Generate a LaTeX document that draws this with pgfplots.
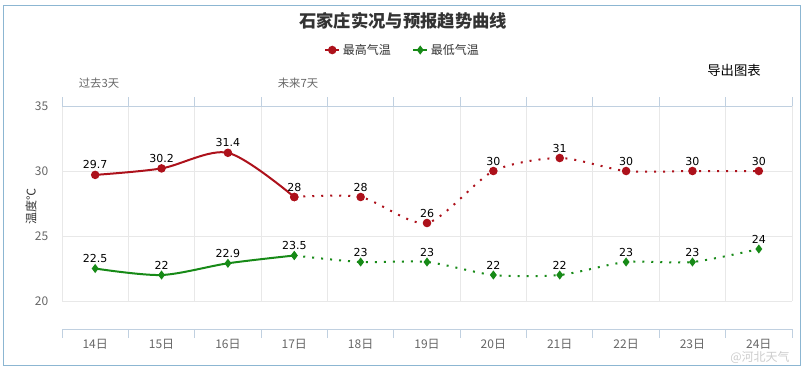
\documentclass[border=0pt]{standalone}
\usepackage{pgfplots}
\pgfplotsset{compat=1.18}
\usepackage{fontspec}
\setmainfont{Noto Sans CJK SC}
\newfontfamily\dejavu{DejaVu Sans}
\definecolor{hred}{HTML}{AD111B}
\definecolor{hgreen}{HTML}{178A17}
\definecolor{gridc}{HTML}{E8E8E8}
\definecolor{axisc}{HTML}{C0D0E0}
\definecolor{labc}{HTML}{666666}
\definecolor{titc}{HTML}{333333}
\definecolor{bordc}{HTML}{8CB6D2}
\begin{document}
\begin{tikzpicture}
\begin{scope}[x=0.75pt,y=-0.75pt]
\path (0,0) rectangle (805,369);
\draw[bordc, line width=0.9pt] (3.5,5.5) rectangle (800.5,365.5);
\end{scope}
\begin{axis}[
  at={(46.5pt,-246.75pt)}, anchor=south west, scale only axis,
  width=547.5pt, height=167.25pt,
  xmin=0, xmax=11, ymin=17.846, ymax=35,
  clip=false,
  axis x line*=bottom, axis y line*=left,
  y axis line style={draw=none},
  x axis line style={draw=axisc, line width=0.75pt, -},
  xtick={0,...,11}, xticklabels={},
  tick align=outside,
  major tick length=6.75pt,
  xtick style={draw=axisc, line width=0.75pt},
  extra x ticks={0.5,1.5,2.5,3.5,4.5,5.5,6.5,7.5,8.5,9.5,10.5},
  extra x tick labels={14日,15日,16日,17日,18日,19日,20日,21日,22日,23日,24日},
  extra x tick style={major tick length=0pt, tick style={draw=none},
     xticklabel style={yshift=-4.5pt}},
  xticklabel style={font=\fontsize{9}{10}\selectfont, text=labc},
  ytick={20,25,30,35},
  ytick style={draw=none},
  ymajorgrids,
  major grid style={draw=gridc, line width=0.75pt},
  yticklabel style={font=\fontsize{9}{10}\selectfont, text=labc},
  /pgf/number format/assume math mode=true,
  legend style={at={(0.467,1.251)}, anchor=center, draw=none, fill=none,
     font=\fontsize{9}{11}\selectfont, text=titc, legend columns=2,
     /tikz/every even column/.append style={column sep=14pt}},
  legend image code/.code={\draw[mark repeat=2,mark phase=2,#1] plot coordinates {(0pt,0pt) (5.25pt,0pt) (10.5pt,0pt)};},
  every node near coord/.append style={font=\dejavu\fontsize{8.25}{10}\selectfont, text=black, anchor=base, yshift=4.5pt},
]
\pgfplotsinvokeforeach{0,...,11}{
  \draw[gridc, line width=0.75pt] (axis cs:#1,20) -- (axis cs:#1,35);
  \draw[axisc, line width=0.75pt] (axis cs:#1,35) -- ++(0pt,6.75pt);
}
\draw[axisc, line width=0.75pt] (axis cs:0,35) -- (axis cs:11,35);

\addplot[hred, line width=1.5pt, smooth, mark=*, mark size=2.4pt,
  nodes near coords, point meta=explicit symbolic]
  coordinates {(0.5,29.7)[29.7] (1.5,30.2)[30.2] (2.5,31.4)[31.4] (3.5,28)[]};
\addlegendentry{最高气温}
\addplot[hgreen, line width=1.5pt, smooth, mark=diamond*, mark size=2.2pt,
  nodes near coords, point meta=explicit symbolic]
  coordinates {(0.5,22.5)[22.5] (1.5,22)[22] (2.5,22.9)[22.9] (3.5,23.5)[]};
\addlegendentry{最低气温}

\addplot[forget plot, hred, line width=1.5pt, smooth, tension=0.45, dash pattern=on 1.5pt off 5.25pt,
  mark=*, mark size=2.4pt, mark options={solid},
  nodes near coords, point meta=explicit symbolic]
  coordinates {(3.5,28)[28] (4.5,28)[28] (5.5,26)[26] (6.5,30)[30] (7.5,31)[31] (8.5,30)[30] (9.5,30)[30] (10.5,30)[30]};
\addplot[forget plot, hgreen, line width=1.5pt, smooth, tension=0.45, dash pattern=on 1.5pt off 5.25pt,
  mark=diamond*, mark size=2.2pt, mark options={solid},
  nodes near coords, point meta=explicit symbolic]
  coordinates {(3.5,23.5)[23.5] (4.5,23)[23] (5.5,23)[23] (6.5,22)[22] (7.5,22)[22] (8.5,23)[23] (9.5,23)[23] (10.5,24)[24]};
\end{axis}
\begin{scope}[x=0.75pt,y=-0.75pt]
\node[font=\bfseries\fontsize{13}{15}\selectfont, text=titc] at (403,21) {石家庄实况与预报趋势曲线};
\node[font=\fontsize{10}{12}\selectfont, text=black] at (734,70) {导出图表};
\node[font=\fontsize{8.5}{10}\selectfont, text=labc] at (99,83) {过去3天};
\node[font=\fontsize{8.5}{10}\selectfont, text=labc] at (298,83) {未来7天};
\node[rotate=90, font=\fontsize{9}{10}\selectfont, text=titc] at (31,206) {温度℃};
\node[font=\fontsize{9}{10}\selectfont, text=gray, opacity=0.4] at (760,357.5) {@河北天气};
\end{scope}
\end{tikzpicture}
\end{document}
